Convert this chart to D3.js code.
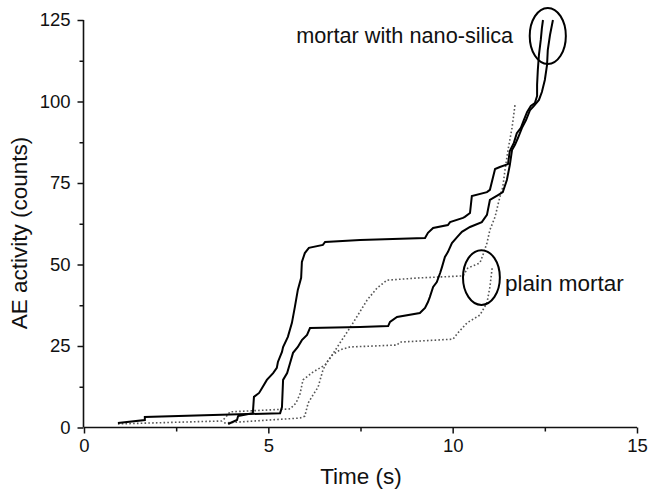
<!DOCTYPE html>
<html><head><meta charset="utf-8">
<script src="https://cdn.jsdelivr.net/npm/d3@7/dist/d3.min.js"></script>
<style>body{margin:0;background:#fff}svg{display:block}text{font-family:"Liberation Sans",Arial,sans-serif;fill:#111}</style>
</head><body><svg id="c" width="649" height="496"></svg>
<script>
const xTicks=[0,5,10,15];
const yTicks=[0,25,50,75,100,125];
// solid: mortar with nano-silica
const nanoA=[[3.91,1.07],[4.15,2.3],[4.18,3.5],[4.58,4.4],[4.61,9.4],[4.75,10.6],[4.83,12.1],[4.96,14.6],[5.13,16.7],[5.23,18.3],[5.26,20.1],[5.37,23.2],[5.40,24.7],[5.53,27.8],[5.64,32.1],[5.72,37.0],[5.80,42.2],[5.89,45.9],[5.91,50.8],[5.99,53.5],[6.10,55.1],[6.48,56.0],[6.54,56.9],[7.49,57.5],[9.25,58.1],[9.33,59.7],[9.47,61.2],[9.87,62.1],[9.93,63.0],[10.28,64.3],[10.33,64.6],[10.47,65.8],[10.52,71.0],[10.93,72.2],[11.01,72.9],[11.15,79.3],[11.28,79.9],[11.5,80.8],[11.55,84.8],[11.66,87.3],[11.74,90.3],[11.85,91.9],[11.93,94.3],[12.02,96.8],[12.12,98.6],[12.23,99.5],[12.29,101.7],[12.29,105.1],[12.31,109.7],[12.34,114.3],[12.39,118.9],[12.42,122.5],[12.45,125.0]];
const nanoB=[[0.92,1.4],[1.65,2.3],[1.65,3.2],[5.32,4.4],[5.37,6.3],[5.40,14.6],[5.51,16.7],[5.59,19.8],[5.67,22.9],[5.80,24.7],[5.91,26.8],[6.05,28.4],[6.13,30.5],[7.49,30.8],[8.25,31.1],[8.30,32.4],[8.49,33.9],[9.11,35.1],[9.25,36.7],[9.33,38.5],[9.38,40.0],[9.47,43.1],[9.57,44.6],[9.66,47.4],[9.71,49.2],[9.79,52.3],[9.87,53.8],[9.98,56.6],[10.12,58.4],[10.25,60.0],[10.47,61.5],[10.79,63.0],[10.93,65.2],[11.01,69.8],[11.23,71.3],[11.36,72.2],[11.47,75.9],[11.55,80.5],[11.61,85.1],[11.69,86.7],[11.77,88.8],[11.88,91.9],[11.99,94.3],[12.10,97.4],[12.2,98.6],[12.34,100.5],[12.42,102.9],[12.50,106.6],[12.56,111.2],[12.58,115.8],[12.64,120.4],[12.72,125.0]];
// dotted: plain mortar
const plainC=[[0.92,1.1],[3.74,2.0],[3.85,3.2],[3.96,4.8],[5.59,5.7],[5.75,7.5],[5.86,10.3],[5.94,14.6],[6.21,17.0],[6.54,19.2],[6.73,22.2],[6.94,25.9],[7.21,30.5],[7.43,34.5],[7.68,39.1],[7.95,42.8],[8.22,45.2],[9.11,45.9],[10.28,46.5],[10.41,48.9],[10.74,50.5],[10.82,52.9],[10.93,56.6],[11.01,60.6],[11.15,64.6],[11.28,70.7],[11.36,73.8],[11.42,79.0],[11.5,85.1],[11.61,91.9],[11.69,98.9]];
const plainD=[[3.80,1.4],[5.86,2.9],[5.99,3.5],[6.08,7.5],[6.18,9.4],[6.35,12.4],[6.48,17.6],[6.59,20.1],[6.73,22.2],[6.94,23.8],[7.21,24.7],[8.49,25.3],[8.57,26.2],[10.01,27.1],[10.14,29.0],[10.39,32.1],[10.74,34.5],[10.93,38.2],[11.01,43.1],[11.07,48.9]];
const labels=["mortar with nano-silica","plain mortar"];
const ellipses=[{cx:12.58,cy:120.1,rx:0.49,ry:8.6},{cx:10.78,cy:46.0,rx:0.50,ry:8.4}];

const svg=d3.select("#c");
const x=d3.scaleLinear().domain([0,15]).range([84,637]);
const y=d3.scaleLinear().domain([0,125]).range([427.5,20]);

const xAxis=svg.append("g").attr("transform","translate(0,427.5)")
  .call(d3.axisBottom(x).tickValues(xTicks).tickSize(6).tickPadding(5).tickFormat(d3.format("d")));
const xMinor=svg.append("g").attr("transform","translate(0,427.5)")
  .call(d3.axisBottom(x).tickValues([2.5,7.5,12.5]).tickSize(4).tickFormat(""));
xMinor.select(".domain").remove();
const yAxis=svg.append("g").attr("transform","translate(83.5,0)")
  .call(d3.axisLeft(y).tickValues(yTicks).tickSize(6).tickPadding(7).tickFormat(d3.format("d")));
const yMinor=svg.append("g").attr("transform","translate(83.5,0)")
  .call(d3.axisLeft(y).tickValues([12.5,37.5,62.5,87.5,112.5]).tickSize(4).tickFormat(""));
yMinor.select(".domain").remove();
svg.selectAll(".domain").attr("stroke","#111").attr("stroke-width",1.6);
svg.selectAll(".tick line").attr("stroke","#111").attr("stroke-width",1.5);
svg.selectAll(".tick text").attr("font-size",18.5).attr("font-family","Liberation Sans, Arial, sans-serif").attr("fill","#111");
xAxis.select(".domain").attr("d","M84,0H637");
yAxis.select(".domain").attr("d","M0,"+y(0)+"V"+y(125));

const line=d3.line().x(d=>x(d[0])).y(d=>y(d[1]));
[plainC,plainD].forEach(s=>svg.append("path").attr("d",line(s)).attr("fill","none")
  .attr("stroke","#555").attr("stroke-width",1.6).attr("stroke-dasharray","1.6,2.2"));
[nanoA,nanoB].forEach(s=>svg.append("path").attr("d",line(s)).attr("fill","none")
  .attr("stroke","#000").attr("stroke-width",2).attr("stroke-linejoin","miter"));

ellipses.forEach(e=>svg.append("ellipse").attr("cx",x(e.cx)).attr("cy",y(e.cy))
  .attr("rx",x(e.rx)-x(0)).attr("ry",y(0)-y(e.ry)).attr("fill","none").attr("stroke","#000").attr("stroke-width",2));

svg.append("text").attr("x",x(11.64)).attr("y",y(120.4)).attr("dy","0.35em").attr("text-anchor","end")
  .attr("font-size",21.7).text(labels[0]);
svg.append("text").attr("x",x(11.42)).attr("y",y(44.3)).attr("dy","0.35em").attr("text-anchor","start")
  .attr("font-size",22.5).text(labels[1]);

svg.append("text").attr("x",361).attr("y",484).attr("text-anchor","middle").attr("font-size",22.5).text("Time (s)");
svg.append("text").attr("transform","translate(27,233) rotate(-90)").attr("text-anchor","middle").attr("font-size",22.5).text("AE activity (counts)");
</script></body></html>
